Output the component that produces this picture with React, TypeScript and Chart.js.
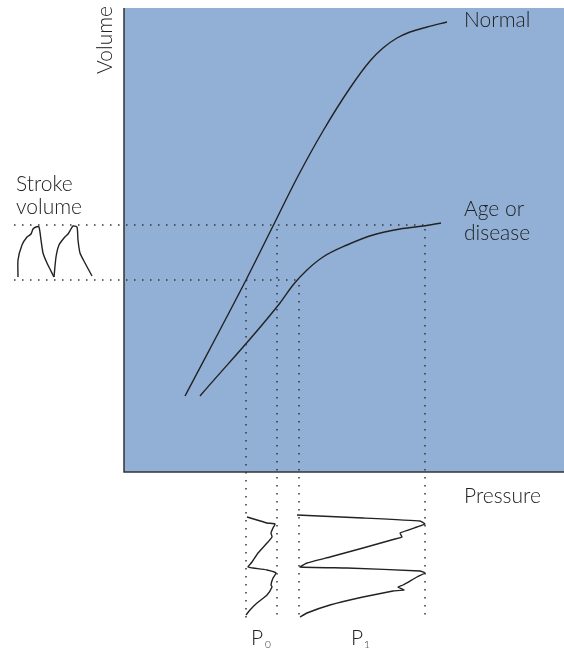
import React, { useEffect, useRef } from "react";
import { Chart, registerables } from "chart.js";

Chart.register(...registerables);

// Coordinates: x = pressure units, y = volume units (origin at the axes corner)
const normalCurve: [number, number][] = [
  [61, 76], [122, 192], [150, 248], [173, 294], [199, 341], [226, 384], [246, 411],
  [259, 424], [273, 434], [286, 440], [303, 445], [323, 450],
];
const ageCurve: [number, number][] = [
  [76, 76], [156, 169], [169, 187], [183, 202], [199, 215], [223, 227], [249, 237],
  [276, 243], [299, 246], [317, 249],
];
const strokeWave1: [number, number][] = [
  [-106, 195], [-106, 212], [-102, 227], [-97, 235], [-93, 238], [-91, 243], [-88, 245],
  [-85, 245], [-83, 232], [-81, 219], [-77, 209], [-70, 195],
];
const strokeWave2: [number, number][] = [
  [-70, 195], [-68, 215], [-65, 227], [-60, 234], [-56, 238], [-53, 243], [-51, 246],
  [-47, 245], [-46, 232], [-44, 219], [-39, 209], [-32, 196],
];
const p0Wave: [number, number][] = [
  [123, -45], [133, -48], [143, -51], [151, -52], [149, -56], [147, -61], [148, -65],
  [143, -71], [134, -81], [128, -90], [124, -95], [129, -96], [143, -98], [152, -101],
  [149, -106], [147, -113], [148, -115], [143, -123], [133, -131], [126, -138], [122, -143],
];
const p1Wave: [number, number][] = [
  [173, -43], [239, -46], [296, -49], [301, -52], [293, -55], [276, -61], [278, -65],
  [271, -67], [239, -76], [206, -85], [183, -91], [176, -95], [223, -96], [296, -99],
  [301, -101], [293, -105], [279, -113], [274, -115], [280, -118], [269, -119],
  [239, -125], [206, -133], [183, -141], [176, -145],
];
// Guide lines (dotted)
const strokeTopLine: [number, number][] = [[-110, 247], [301, 247]];
const strokeBottomLine: [number, number][] = [[-110, 192], [172, 192]];
const p0LeftLine: [number, number][] = [[122, 192], [122, -148]];
const p0RightLine: [number, number][] = [[153, 243], [153, -148]];
const p1LeftLine: [number, number][] = [[175, 187], [175, -145]];
const p1RightLine: [number, number][] = [[301, 243], [301, -148]];

const xAxisMax = 440;
const yAxisMax = 464;

const curveLabels = ["Normal", "Age or", "disease"];
const sideLabels = ["Stroke", "volume"];
const axisLabels = ["Volume", "Pressure"];
const pLabels = ["P", "0", "P", "1"];

const toXY = (arr: [number, number][]) => arr.map(([x, y]) => ({ x, y }));

const FONT = "Lato, 'Open Sans', sans-serif";
const TEXT = "#222";

const bgPlugin = {
  id: "bgPlugin",
  beforeDatasetsDraw(chart: any) {
    const { ctx, scales } = chart;
    const xs = scales.x, ys = scales.y;
    const x0 = xs.getPixelForValue(0), x1 = xs.getPixelForValue(xAxisMax);
    const y0 = ys.getPixelForValue(0), y1 = ys.getPixelForValue(yAxisMax);
    ctx.save();
    ctx.fillStyle = "#92b0d6";
    ctx.fillRect(x0, y1, x1 - x0, y0 - y1);
    ctx.strokeStyle = "#333";
    ctx.lineWidth = 1.5;
    ctx.beginPath();
    ctx.moveTo(x0, y1);
    ctx.lineTo(x0, y0);
    ctx.lineTo(x1, y0);
    ctx.stroke();
    ctx.restore();
  },
};

const labelPlugin = {
  id: "labelPlugin",
  afterDatasetsDraw(chart: any) {
    const { ctx, scales } = chart;
    const px = (v: number) => scales.x.getPixelForValue(v);
    const py = (v: number) => scales.y.getPixelForValue(v);
    ctx.save();
    ctx.fillStyle = TEXT;
    ctx.textBaseline = "alphabetic";
    ctx.textAlign = "left";
    ctx.font = `300 21px ${FONT}`;
    ctx.fillText(curveLabels[0], px(340), py(445));
    ctx.fillText(curveLabels[1], px(340), py(256));
    ctx.fillText(curveLabels[2], px(340), py(232));
    ctx.fillText(sideLabels[0], px(-108), py(281));
    ctx.fillText(sideLabels[1], px(-108), py(258));
    ctx.fillText(axisLabels[1], px(340), py(-31));
    // rotated Volume
    ctx.save();
    ctx.translate(px(-12), py(398));
    ctx.rotate(-Math.PI / 2);
    ctx.fillText(axisLabels[0], 0, 0);
    ctx.restore();
    // P0 / P1
    ctx.fillText(pLabels[0], px(127), py(-173));
    ctx.fillText(pLabels[2], px(227), py(-173));
    ctx.font = `300 10px ${FONT}`;
    ctx.fillText(pLabels[1], px(141), py(-176));
    ctx.fillText(pLabels[3], px(240), py(-176));
    ctx.restore();
  },
};

const solid = (data: [number, number][], tension = 0.3, monotone = false) => ({
  data: toXY(data),
  showLine: true,
  pointRadius: 0,
  borderColor: "#222",
  borderWidth: 1.4,
  tension,
  cubicInterpolationMode: monotone ? "monotone" : "default",
  fill: false,
});
const dotted = (data: [number, number][]) => ({
  data: toXY(data),
  showLine: true,
  pointRadius: 0,
  borderColor: "#333",
  borderWidth: 1.5,
  borderDash: [1.5, 6.5],
  tension: 0,
  fill: false,
});

export default function App() {
  const ref = useRef<HTMLCanvasElement>(null);
  useEffect(() => {
    const chart = new Chart(ref.current as HTMLCanvasElement, {
      type: "scatter",
      data: {
        datasets: [
          dotted(strokeTopLine),
          dotted(strokeBottomLine),
          dotted(p0LeftLine),
          dotted(p0RightLine),
          dotted(p1LeftLine),
          dotted(p1RightLine),
          solid(normalCurve, 0.4, true),
          solid(ageCurve, 0.4, true),
          solid(strokeWave1, 0.2),
          solid(strokeWave2, 0.2),
          solid(p0Wave, 0.2),
          solid(p1Wave, 0.1),
        ] as any,
      },
      options: {
        animation: false,
        responsive: false,
        events: [],
        layout: { padding: 0 },
        plugins: { legend: { display: false }, tooltip: { enabled: false } },
        scales: {
          x: { type: "linear", min: -124, max: 440, display: false },
          y: { type: "linear", min: -177, max: 472, display: false },
        },
      },
      plugins: [bgPlugin, labelPlugin],
    });
    return () => chart.destroy();
  }, []);
  return (
    <canvas
      ref={ref}
      width={564}
      height={649}
      style={{ position: "absolute", left: 0, top: 0, display: "block" }}
    />
  );
}
